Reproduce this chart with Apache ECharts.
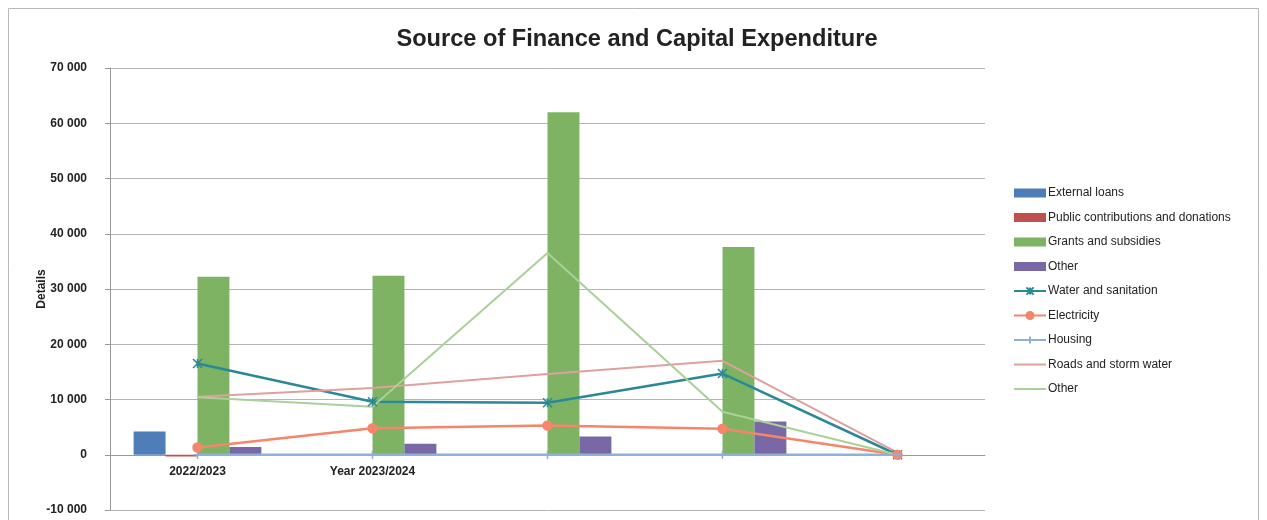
<!DOCTYPE html>
<html>
<head>
<meta charset="utf-8">
<script src="https://cdn.jsdelivr.net/npm/echarts@6/dist/echarts.min.js"></script>
<style>html,body{margin:0;padding:0;background:#fff}#c{width:1267px;height:520px}</style>
</head>
<body>
<div id="c"></div>
<script>
const categories = ['2022/2023', 'Year 2023/2024', '', '', ''];
const yTicks = { min: -10000, max: 70000, interval: 10000 };

const externalLoans = [4200, 0, 0, 0, 0];
const publicContributions = [-300, 0, 0, 0, 0];
const grantsSubsidies = [32200, 32400, 62000, 37600, 0];
const otherFinance = [1400, 2000, 3300, 6000, 0];

const waterSanitation = [16500, 9600, 9400, 14700, 0];
const electricity = [1300, 4800, 5300, 4700, 0];
const housing = [0, 0, 0, 0, 0];
const roadsStormWater = [10500, 12100, 14600, 17000, 400];
const otherExpenditure = [10400, 8700, 36500, 7800, 0];

const fmt = v => (v < 0 ? '-' : '') + String(Math.abs(v)).replace(/\B(?=(\d{3})+(?!\d))/g, ' ');

const bar = (name, data, color) => ({
  name, type: 'bar', data, barGap: '0%', barCategoryGap: '27%',
  itemStyle: { color }
});
const line = (name, data, color, symbol, size, width) => ({
  name, type: 'line', data, symbol: symbol || 'none', symbolSize: size || 0,
  showSymbol: !!symbol,
  lineStyle: { color, width: width || 2.5 },
  itemStyle: { color, borderColor: color, borderWidth: 1.5 },
  z: 3
});

const chart = echarts.init(document.getElementById('c'));
chart.setOption({
  animation: false,
  backgroundColor: '#fff',
  title: {
    text: 'Source of Finance and Capital Expenditure',
    left: 632, top: 22, textAlign: 'center',
    textStyle: { fontFamily: 'Liberation Sans, Arial', fontSize: 23.6, fontWeight: 'bold', color: '#222' }
  },
  graphic: [{
    type: 'rect', shape: { x: 8.5, y: 8.5, width: 1250, height: 540 },
    style: { fill: 'none', stroke: '#b8b8b8', lineWidth: 1 }, silent: true
  }],
  grid: { left: 110, right: 282, top: 68, bottom: 10, outerBoundsMode: 'none', containLabel: false },
  legend: {
    orient: 'vertical', left: 1008, top: 182,
    itemWidth: 32, itemHeight: 9, itemGap: 12.5,
    formatter: n => n.trim(),
    textStyle: { fontFamily: 'Liberation Sans, Arial', fontSize: 12, color: '#222', padding: [0, 0, 0, -3] },
    data: [
      { name: 'External loans', icon: 'rect' },
      { name: 'Public contributions and donations', icon: 'rect' },
      { name: 'Grants and subsidies', icon: 'rect' },
      { name: 'Other', icon: 'rect' },
      { name: 'Water and sanitation' },
      { name: 'Electricity' },
      { name: 'Housing' },
      { name: 'Roads and storm water', itemStyle: { opacity: 0 } },
      { name: 'Other ', itemStyle: { opacity: 0 } }
    ]
  },
  xAxis: {
    type: 'category', data: categories,
    axisLine: { onZero: true, lineStyle: { color: '#999' } },
    axisTick: { show: true, alignWithLabel: true, length: 4, lineStyle: { color: '#999' } },
    axisLabel: { margin: -44, fontFamily: 'Liberation Sans, Arial', fontSize: 12, fontWeight: 'bold', color: '#222', interval: 0 }
  },
  yAxis: {
    type: 'value', min: yTicks.min, max: yTicks.max, interval: yTicks.interval,
    name: 'Details', nameLocation: 'middle', nameGap: 62, nameMoveOverlap: false,
    nameTextStyle: { fontFamily: 'Liberation Sans, Arial', fontSize: 12, fontWeight: 'bold', color: '#222' },
    axisLine: { show: true, lineStyle: { color: '#999' } },
    axisTick: { show: true, length: 5, lineStyle: { color: '#999' } },
    axisLabel: { margin: 23, formatter: fmt, fontFamily: 'Liberation Sans, Arial', fontSize: 12, fontWeight: 'bold', color: '#222' },
    splitLine: { lineStyle: { color: '#b5b5b5' } }
  },
  series: [
    bar('External loans', externalLoans, '#4f7db8'),
    bar('Public contributions and donations', publicContributions, '#c0504d'),
    bar('Grants and subsidies', grantsSubsidies, '#7db363'),
    bar('Other', otherFinance, '#7868a6'),
    line('Water and sanitation', waterSanitation, '#2a8898', 'path://M0,0 L10,10 M10,0 L0,10 M5,0 L5,10', 9, 2.5),
    line('Electricity', electricity, '#f5866a', 'circle', 9, 2.5),
    line('Housing', housing, '#8fb1d9', 'path://M0,5 L10,5 M5,0 L5,10', 8, 2.5),
    line('Roads and storm water', roadsStormWater, '#e0a09e', null, 0, 2),
    line('Other ', otherExpenditure, '#abd098', null, 0, 2)
  ]
});
</script>
</body>
</html>
